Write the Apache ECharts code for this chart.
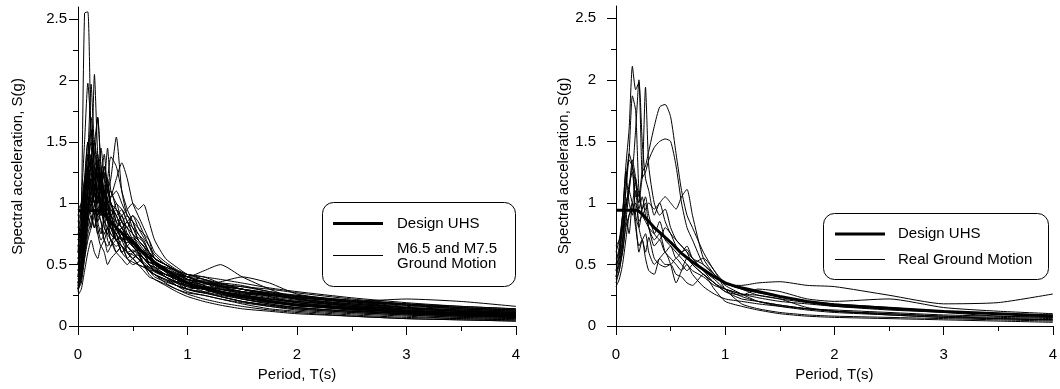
<!DOCTYPE html>
<html>
<head>
<meta charset="utf-8">
<script src="https://cdn.jsdelivr.net/npm/echarts@6/dist/echarts.min.js"></script>
<style>
html,body{margin:0;padding:0;background:#fff;}
#c{width:1060px;height:389px;}
</style>
</head>
<body>
<div id="c"></div>
<script>
// ---------- DATA ----------
const PERIODS = [0, 0.03, 0.06, 0.09, 0.12, 0.15, 0.18, 0.21, 0.24, 0.27, 0.3, 0.35, 0.4, 0.45, 0.5, 0.55, 0.6, 0.65, 0.7, 0.8, 0.9, 1.0, 1.15, 1.3, 1.5, 1.75, 2.0, 2.5, 3.0, 3.5, 4.0];

const UHS_PERIODS = [0, 0.2, 0.25, 0.3, 0.35, 0.4, 0.5, 0.6, 0.7, 0.8, 0.9, 1.0, 1.1, 1.2, 1.35, 1.5, 1.75, 2.0, 2.5, 3.0, 3.5, 4.0];
const UHS_VALUES  = [0.94, 0.94, 0.9, 0.85, 0.8, 0.76, 0.68, 0.59, 0.52, 0.46, 0.40, 0.35, 0.32, 0.30, 0.27, 0.24, 0.2, 0.17, 0.145, 0.117, 0.10, 0.082];

// Left panel: M6.5 and M7.5 ground motions
const L01 = [0.3, 0.9, 2.55, 2.56, 1.5, 1.1, 0.9, 1.0, 0.8, 0.75, 0.7, 0.6, 0.65, 0.6, 0.55, 0.5, 0.48, 0.45, 0.42, 0.38, 0.33, 0.3, 0.27, 0.24, 0.2, 0.17, 0.14, 0.11, 0.09, 0.07, 0.06];
const L02 = [0.5, 0.8, 1.2, 1.5, 1.3, 2.05, 1.4, 1.2, 1.0, 0.9, 0.85, 0.7, 0.75, 0.6, 0.55, 0.58, 0.5, 0.45, 0.45, 0.4, 0.35, 0.3, 0.28, 0.25, 0.22, 0.18, 0.15, 0.12, 0.1, 0.08, 0.07];
const L03 = [0.6, 1.0, 1.5, 1.98, 1.6, 1.3, 1.1, 1.2, 0.95, 0.9, 1.0, 0.85, 0.7, 0.75, 0.65, 0.6, 0.55, 0.5, 0.48, 0.45, 0.4, 0.35, 0.3, 0.28, 0.24, 0.2, 0.17, 0.14, 0.11, 0.09, 0.08];
const L04 = [0.4, 0.7, 1.1, 1.4, 1.97, 1.5, 1.7, 1.3, 1.1, 1.2, 0.9, 0.8, 0.85, 0.7, 0.65, 0.6, 0.62, 0.5, 0.45, 0.42, 0.38, 0.35, 0.32, 0.3, 0.26, 0.22, 0.19, 0.15, 0.12, 0.1, 0.09];
const L05 = [0.8, 0.9, 1.1, 1.2, 1.0, 1.1, 1.3, 1.2, 1.0, 1.1, 1.2, 1.54, 1.1, 0.9, 0.85, 0.7, 0.65, 0.6, 0.55, 0.5, 0.45, 0.4, 0.35, 0.32, 0.28, 0.25, 0.22, 0.18, 0.15, 0.12, 0.1];
const L06 = [0.9, 1.0, 1.2, 1.3, 1.5, 1.4, 1.7, 1.3, 1.2, 1.45, 1.1, 1.0, 0.95, 0.85, 0.8, 0.7, 0.65, 0.55, 0.5, 0.45, 0.42, 0.38, 0.35, 0.3, 0.27, 0.23, 0.2, 0.16, 0.13, 0.11, 0.1];
const L07 = [0.7, 0.8, 1.0, 1.1, 1.2, 1.0, 1.15, 1.25, 1.1, 1.2, 1.38, 1.3, 1.1, 0.95, 0.85, 0.75, 0.7, 0.6, 0.55, 0.5, 0.45, 0.4, 0.35, 0.33, 0.3, 0.26, 0.22, 0.18, 0.14, 0.12, 0.1];
const L08 = [0.5, 0.7, 1.0, 1.2, 1.3, 1.1, 1.0, 1.1, 0.9, 1.0, 1.05, 1.2, 1.33, 1.2, 1.0, 0.9, 0.8, 0.7, 0.55, 0.5, 0.45, 0.42, 0.4, 0.35, 0.3, 0.26, 0.22, 0.17, 0.13, 0.11, 0.09];
const L09 = [0.3, 0.4, 0.6, 0.8, 0.9, 0.8, 0.9, 0.85, 0.7, 0.8, 0.9, 0.85, 0.9, 0.95, 1.0, 0.95, 0.99, 0.85, 0.7, 0.55, 0.48, 0.42, 0.38, 0.35, 0.3, 0.26, 0.23, 0.19, 0.15, 0.12, 0.11];
const L10 = [0.35, 0.45, 0.7, 1.0, 1.2, 1.4, 1.3, 1.1, 1.0, 0.9, 0.8, 0.7, 0.75, 0.65, 0.6, 0.55, 0.5, 0.45, 0.4, 0.36, 0.33, 0.3, 0.27, 0.24, 0.2, 0.16, 0.13, 0.1, 0.08, 0.06, 0.05];
const L11 = [0.25, 0.3, 0.45, 0.6, 0.7, 0.6, 0.55, 0.65, 0.6, 0.5, 0.55, 0.6, 0.65, 0.55, 0.5, 0.52, 0.55, 0.5, 0.45, 0.4, 0.33, 0.28, 0.25, 0.22, 0.18, 0.14, 0.12, 0.09, 0.07, 0.06, 0.05];
const L12 = [0.45, 0.55, 0.8, 1.1, 1.3, 1.2, 1.4, 1.1, 1.25, 1.0, 0.95, 0.9, 0.8, 0.85, 0.75, 0.65, 0.6, 0.55, 0.5, 0.45, 0.38, 0.33, 0.3, 0.28, 0.26, 0.25, 0.23, 0.2, 0.17, 0.15, 0.13];
const L13 = [0.6, 0.7, 0.9, 1.0, 1.1, 1.2, 1.0, 0.9, 0.95, 0.85, 0.8, 0.75, 0.7, 0.72, 0.65, 0.6, 0.55, 0.52, 0.5, 0.45, 0.42, 0.4, 0.45, 0.5, 0.4, 0.3, 0.22, 0.16, 0.12, 0.1, 0.08];
const L14 = [0.55, 0.6, 0.75, 0.9, 1.1, 1.0, 0.9, 1.05, 0.8, 0.75, 0.85, 0.7, 0.65, 0.6, 0.62, 0.58, 0.5, 0.48, 0.45, 0.42, 0.4, 0.36, 0.34, 0.36, 0.4, 0.35, 0.26, 0.2, 0.15, 0.13, 0.11];
const L15 = [0.5, 0.6, 0.8, 0.95, 1.05, 0.9, 1.1, 0.95, 0.85, 0.9, 0.8, 0.7, 0.75, 0.65, 0.6, 0.55, 0.52, 0.48, 0.45, 0.4, 0.36, 0.33, 0.31, 0.3, 0.28, 0.26, 0.25, 0.2, 0.22, 0.2, 0.16];
const L16 = [0.35, 0.5, 0.75, 0.9, 0.8, 1.0, 0.85, 0.75, 0.9, 0.7, 0.65, 0.8, 0.7, 0.6, 0.55, 0.6, 0.5, 0.45, 0.42, 0.35, 0.3, 0.27, 0.25, 0.22, 0.19, 0.16, 0.14, 0.11, 0.09, 0.07, 0.06];
const L17 = [0.65, 0.75, 1.0, 1.25, 1.1, 1.3, 1.2, 1.0, 1.15, 0.95, 0.9, 0.8, 0.85, 0.7, 0.65, 0.6, 0.55, 0.5, 0.48, 0.42, 0.38, 0.35, 0.3, 0.26, 0.23, 0.2, 0.17, 0.13, 0.1, 0.09, 0.07];
const L18 = [0.4, 0.5, 0.65, 0.85, 1.0, 0.9, 0.75, 0.8, 0.7, 0.65, 0.7, 0.6, 0.55, 0.5, 0.55, 0.5, 0.45, 0.4, 0.38, 0.34, 0.3, 0.26, 0.22, 0.19, 0.16, 0.13, 0.11, 0.08, 0.06, 0.05, 0.04];
const L19 = [0.3, 0.45, 0.7, 1.2, 1.6, 1.3, 1.0, 1.2, 1.4, 1.1, 1.0, 0.9, 0.8, 0.75, 0.7, 0.72, 0.68, 0.6, 0.52, 0.47, 0.4, 0.35, 0.3, 0.27, 0.24, 0.2, 0.17, 0.14, 0.11, 0.09, 0.08];
const L20 = [0.75, 0.85, 1.1, 1.3, 1.15, 1.0, 1.1, 0.95, 1.05, 1.2, 1.0, 0.95, 0.9, 0.8, 0.9, 0.85, 0.75, 0.65, 0.55, 0.5, 0.45, 0.38, 0.33, 0.28, 0.25, 0.22, 0.2, 0.16, 0.14, 0.12, 0.1];
const L21 = [0.55, 0.65, 0.85, 1.05, 0.95, 1.15, 1.25, 1.1, 0.9, 1.0, 0.8, 0.75, 0.6, 0.65, 0.7, 0.66, 0.6, 0.55, 0.5, 0.44, 0.36, 0.32, 0.3, 0.35, 0.33, 0.28, 0.24, 0.19, 0.15, 0.13, 0.11];
const L22 = [0.45, 0.6, 0.9, 1.1, 1.25, 1.15, 1.05, 0.95, 1.1, 0.85, 0.75, 0.7, 0.6, 0.55, 0.6, 0.62, 0.58, 0.52, 0.5, 0.46, 0.4, 0.3, 0.27, 0.32, 0.3, 0.24, 0.19, 0.14, 0.11, 0.09, 0.07];
const L23 = [0.95, 1.0, 1.1, 1.25, 1.35, 1.2, 1.1, 1.3, 1.05, 0.95, 0.9, 1.0, 0.85, 0.8, 0.7, 0.65, 0.6, 0.58, 0.5, 0.48, 0.43, 0.38, 0.36, 0.33, 0.3, 0.27, 0.24, 0.2, 0.17, 0.14, 0.12];
const L24 = [0.3, 0.35, 0.55, 0.75, 0.85, 0.95, 0.8, 0.7, 0.75, 0.8, 0.7, 0.65, 0.7, 0.75, 0.68, 0.6, 0.5, 0.42, 0.38, 0.33, 0.28, 0.24, 0.2, 0.17, 0.14, 0.12, 0.1, 0.08, 0.06, 0.05, 0.04];
const L25 = [0.35, 0.5, 0.9, 1.3, 1.1, 1.5, 1.2, 1.0, 0.9, 0.95, 0.85, 0.8, 0.9, 0.75, 0.7, 0.62, 0.55, 0.5, 0.47, 0.4, 0.36, 0.38, 0.33, 0.3, 0.27, 0.25, 0.22, 0.18, 0.15, 0.13, 0.11];
const L26 = [0.28, 0.4, 0.65, 0.95, 1.2, 1.05, 1.3, 1.15, 0.95, 1.05, 1.1, 0.95, 0.85, 0.8, 0.75, 0.7, 0.65, 0.58, 0.52, 0.46, 0.42, 0.37, 0.32, 0.28, 0.25, 0.22, 0.2, 0.17, 0.14, 0.12, 0.1];
const L27 = [0.85, 0.95, 1.15, 1.4, 1.25, 1.1, 1.2, 1.45, 1.2, 1.0, 0.9, 0.95, 0.85, 0.9, 0.8, 0.75, 0.68, 0.6, 0.52, 0.48, 0.45, 0.4, 0.38, 0.34, 0.32, 0.3, 0.27, 0.22, 0.18, 0.15, 0.13];
const L28 = [0.4, 0.55, 0.85, 1.0, 0.9, 0.8, 0.95, 0.85, 0.75, 0.8, 0.7, 0.75, 0.8, 0.85, 0.9, 0.8, 0.72, 0.65, 0.58, 0.5, 0.45, 0.4, 0.36, 0.34, 0.32, 0.28, 0.25, 0.21, 0.17, 0.14, 0.12];
const L29 = [0.5, 0.65, 1.0, 1.3, 1.7, 1.4, 1.2, 1.1, 1.3, 1.15, 1.0, 0.85, 0.8, 0.7, 0.65, 0.6, 0.55, 0.52, 0.5, 0.44, 0.38, 0.35, 0.37, 0.32, 0.28, 0.24, 0.21, 0.17, 0.13, 0.11, 0.09];
const L30 = [0.3, 0.38, 0.55, 0.7, 0.8, 0.9, 0.75, 0.65, 0.7, 0.6, 0.65, 0.7, 0.6, 0.65, 0.6, 0.55, 0.5, 0.46, 0.42, 0.37, 0.33, 0.3, 0.32, 0.28, 0.22, 0.18, 0.15, 0.12, 0.1, 0.08, 0.07];
const L31 = [0.65, 0.8, 1.15, 1.5, 1.3, 1.2, 1.35, 1.2, 1.3, 1.1, 1.05, 1.1, 1.0, 0.9, 0.85, 0.8, 0.75, 0.7, 0.6, 0.52, 0.46, 0.42, 0.4, 0.38, 0.35, 0.31, 0.28, 0.23, 0.19, 0.16, 0.14];
const L32 = [0.45, 0.55, 0.75, 0.95, 1.05, 1.2, 1.1, 0.95, 1.0, 0.9, 0.95, 0.8, 0.7, 0.68, 0.7, 0.65, 0.6, 0.55, 0.5, 0.45, 0.41, 0.35, 0.3, 0.26, 0.24, 0.21, 0.18, 0.14, 0.12, 0.1, 0.08];
const L33 = [0.6, 0.7, 0.85, 1.1, 1.0, 0.9, 1.05, 0.95, 0.85, 0.8, 0.75, 0.7, 0.72, 0.65, 0.6, 0.62, 0.6, 0.55, 0.5, 0.46, 0.43, 0.4, 0.36, 0.31, 0.28, 0.25, 0.23, 0.2, 0.18, 0.16, 0.14];
const L34 = [0.38, 0.5, 0.8, 1.1, 1.35, 1.5, 1.3, 1.0, 0.9, 1.05, 0.85, 0.75, 0.65, 0.6, 0.58, 0.55, 0.5, 0.47, 0.44, 0.4, 0.36, 0.33, 0.28, 0.24, 0.2, 0.17, 0.15, 0.12, 0.1, 0.08, 0.07];
const L35 = [0.7, 0.8, 1.05, 1.2, 1.4, 1.25, 1.1, 1.2, 1.05, 1.15, 1.0, 0.9, 0.95, 0.85, 0.75, 0.7, 0.65, 0.6, 0.55, 0.5, 0.44, 0.38, 0.35, 0.32, 0.3, 0.27, 0.24, 0.2, 0.16, 0.14, 0.12];
const L36 = [0.33, 0.42, 0.6, 0.85, 1.0, 1.1, 0.95, 0.9, 1.0, 0.85, 0.8, 0.75, 0.8, 0.72, 0.68, 0.65, 0.6, 0.5, 0.46, 0.42, 0.38, 0.34, 0.3, 0.27, 0.25, 0.22, 0.19, 0.15, 0.12, 0.1, 0.09];
const L37 = [0.55, 0.65, 0.9, 1.15, 1.3, 1.1, 1.0, 1.15, 0.95, 0.85, 0.9, 0.78, 0.72, 0.7, 0.72, 0.68, 0.62, 0.55, 0.48, 0.42, 0.4, 0.42, 0.38, 0.33, 0.3, 0.26, 0.24, 0.21, 0.18, 0.15, 0.13];
const L38 = [0.42, 0.5, 0.7, 0.9, 1.1, 1.0, 0.85, 0.95, 1.1, 0.9, 0.85, 0.7, 0.65, 0.55, 0.52, 0.5, 0.48, 0.45, 0.42, 0.38, 0.35, 0.32, 0.3, 0.26, 0.22, 0.19, 0.17, 0.13, 0.1, 0.09, 0.08];
const LEFT_MOTIONS = [L01, L02, L03, L04, L05, L06, L07, L08, L09, L10, L11, L12, L13, L14, L15, L16, L17, L18, L19,
  L20, L21, L22, L23, L24, L25, L26, L27, L28, L29, L30, L31, L32, L33, L34, L35, L36, L37, L38];

// Right panel: real ground motions
const R01 = [0.45, 0.6, 0.9, 1.3, 1.6, 2.11, 1.92, 1.98, 1.5, 1.2, 1.1, 0.9, 1.0, 0.85, 0.75, 0.7, 0.65, 0.6, 0.55, 0.45, 0.38, 0.3, 0.24, 0.2, 0.17, 0.14, 0.12, 0.09, 0.07, 0.06, 0.05];
const R02 = [0.5, 0.65, 0.9, 1.2, 1.35, 1.3, 1.6, 2.0, 1.2, 1.94, 1.3, 1.0, 0.9, 0.95, 0.8, 0.7, 0.65, 0.6, 0.5, 0.42, 0.35, 0.28, 0.22, 0.2, 0.17, 0.14, 0.12, 0.1, 0.08, 0.07, 0.06];
const R03 = [0.4, 0.55, 0.8, 1.1, 1.4, 1.87, 1.75, 1.1, 0.95, 1.0, 0.8, 0.7, 0.75, 0.6, 0.55, 0.5, 0.45, 0.5, 0.42, 0.32, 0.26, 0.22, 0.2, 0.18, 0.16, 0.14, 0.13, 0.11, 0.09, 0.08, 0.07];
const R04 = [0.5, 0.55, 0.7, 0.95, 1.1, 1.0, 1.2, 1.05, 1.25, 1.3, 1.42, 1.62, 1.78, 1.8, 1.7, 1.4, 1.1, 0.9, 0.8, 0.6, 0.45, 0.35, 0.3, 0.27, 0.24, 0.2, 0.18, 0.15, 0.12, 0.1, 0.09];
const R05 = [0.55, 0.6, 0.8, 1.0, 1.1, 1.3, 1.15, 1.0, 1.2, 1.25, 1.35, 1.45, 1.5, 1.52, 1.5, 1.3, 1.0, 0.8, 0.7, 0.5, 0.42, 0.35, 0.3, 0.25, 0.22, 0.19, 0.16, 0.13, 0.11, 0.08, 0.07];
const R06 = [0.35, 0.45, 0.6, 0.8, 0.9, 0.95, 1.0, 0.85, 0.9, 0.95, 1.0, 0.95, 1.0, 1.05, 1.0, 0.95, 1.05, 1.11, 0.9, 0.55, 0.42, 0.34, 0.33, 0.35, 0.36, 0.33, 0.32, 0.25, 0.18, 0.19, 0.26];
const R07 = [0.32, 0.38, 0.5, 0.7, 0.9, 1.0, 0.85, 0.6, 0.7, 0.55, 0.45, 0.42, 0.55, 0.5, 0.5, 0.55, 0.5, 0.45, 0.5, 0.55, 0.45, 0.3, 0.18, 0.14, 0.11, 0.09, 0.08, 0.07, 0.06, 0.05, 0.04];
const R08 = [0.6, 0.7, 0.9, 1.25, 1.0, 0.9, 1.1, 0.8, 0.7, 0.75, 0.6, 0.5, 0.55, 0.6, 0.5, 0.35, 0.45, 0.55, 0.5, 0.42, 0.35, 0.28, 0.25, 0.3, 0.28, 0.22, 0.2, 0.22, 0.15, 0.12, 0.1];
const R09 = [0.45, 0.5, 0.6, 0.85, 1.1, 1.35, 1.2, 0.95, 1.05, 0.9, 0.8, 0.65, 0.7, 0.6, 0.65, 0.55, 0.6, 0.62, 0.55, 0.5, 0.42, 0.33, 0.26, 0.2, 0.16, 0.13, 0.11, 0.09, 0.07, 0.06, 0.05];
const R10 = [0.4, 0.5, 0.7, 1.1, 1.4, 1.3, 0.9, 0.8, 0.95, 1.05, 0.9, 0.75, 0.7, 0.8, 0.75, 0.65, 0.6, 0.65, 0.55, 0.45, 0.35, 0.3, 0.26, 0.25, 0.22, 0.15, 0.12, 0.1, 0.08, 0.06, 0.05];
const R11 = [0.65, 0.7, 0.8, 0.95, 1.15, 1.25, 1.05, 1.1, 0.9, 0.85, 0.8, 0.75, 0.85, 0.7, 0.65, 0.6, 0.55, 0.5, 0.45, 0.4, 0.33, 0.3, 0.26, 0.23, 0.2, 0.18, 0.16, 0.14, 0.12, 0.1, 0.08];
const R12 = [0.38, 0.45, 0.65, 0.9, 0.75, 1.0, 0.8, 0.65, 0.7, 0.6, 0.72, 0.55, 0.5, 0.48, 0.5, 0.42, 0.4, 0.35, 0.33, 0.42, 0.3, 0.2, 0.16, 0.13, 0.1, 0.08, 0.07, 0.06, 0.05, 0.04, 0.03];
const RIGHT_MOTIONS = [R01, R02, R03, R04, R05, R06, R07, R08, R09, R10, R11, R12];

const X_MAJOR = [0, 1, 2, 3, 4];
const Y_MAJOR = [0, 0.5, 1, 1.5, 2, 2.5];
const Y_MINOR = [0.25, 0.75, 1.25, 1.75, 2.25];

const NAME_UHS = 'Design UHS';
const NAME_LEFT_1 = 'M6.5 and M7.5';
const NAME_LEFT_2 = 'Ground Motion';
const NAME_RIGHT = 'Real Ground Motion';

// ---------- CHART ----------
const FONT = 'Liberation Sans, Arial, Helvetica, sans-serif';
const chart = echarts.init(document.getElementById('c'), null, {renderer: 'canvas'});

function xAxisFor(g) {
  return {
    gridIndex: g, type: 'value', min: 0, max: 4, interval: 1,
    name: 'Period, T(s)', nameLocation: 'middle', nameGap: 38,
    nameTextStyle: {color: '#000', fontSize: 15, fontFamily: FONT},
    axisLine: {show: true, onZero: false, lineStyle: {color: '#000', width: 1}},
    axisTick: {show: true, length: 9, customValues: X_MAJOR, lineStyle: {color: '#000'}},
    minorTick: {show: true, splitNumber: 2, length: 5, lineStyle: {color: '#000'}},
    axisLabel: {color: '#000', fontSize: 15, fontFamily: FONT, margin: 21, customValues: X_MAJOR},
    splitLine: {show: false}
  };
}
function yMajorFor(g, margin, gap) {
  return {
    gridIndex: g, type: 'value', min: 0, max: 2.6, position: 'left',
    name: 'Spectral acceleration, S(g)', nameLocation: 'middle', nameGap: gap,
    nameTextStyle: {color: '#000', fontSize: 15, fontFamily: FONT},
    axisLine: {show: true, onZero: false, lineStyle: {color: '#000', width: 1}},
    axisTick: {show: true, length: 9, customValues: Y_MAJOR, lineStyle: {color: '#000'}},
    axisLabel: {color: '#000', fontSize: 15, fontFamily: FONT, margin: margin, customValues: Y_MAJOR},
    splitLine: {show: false}
  };
}
function yMinorFor(g) {
  return {
    gridIndex: g, type: 'value', min: 0, max: 2.6, position: 'left', offset: 0,
    axisLine: {show: false},
    axisTick: {show: true, length: 5, customValues: Y_MINOR, lineStyle: {color: '#000'}},
    axisLabel: {show: false},
    splitLine: {show: false}
  };
}

const series = [];
function addMotions(list, name, xi, yi) {
  list.forEach(vals => {
    series.push({
      type: 'line', name: name, xAxisIndex: xi, yAxisIndex: yi,
      data: PERIODS.map((t, i) => [t, vals[i]]),
      symbol: 'none', smooth: 0.2, z: 3,
      lineStyle: {color: '#000', width: 1}, itemStyle: {color: '#000'},
      silent: true
    });
  });
}
function addUHS(xi, yi, z) {
  series.push({
    type: 'line', name: NAME_UHS, xAxisIndex: xi, yAxisIndex: yi,
    data: UHS_PERIODS.map((t, i) => [t, UHS_VALUES[i]]),
    symbol: 'none', smooth: false, z: z,
    lineStyle: {color: '#000', width: 3, join: 'round'}, itemStyle: {color: '#000'},
    silent: true
  });
}
addUHS(0, 0, 2);
addMotions(LEFT_MOTIONS, NAME_LEFT_1 + ' ' + NAME_LEFT_2, 0, 0);
addMotions(RIGHT_MOTIONS, NAME_RIGHT, 1, 2);
addUHS(1, 2, 5);

// ---------- LEGEND BOXES (drawn as graphics) ----------
function txt(x, y, s) {
  return {type: 'text', x: x, y: y, z: 101, silent: true,
    style: {text: s, fill: '#000', font: '15px ' + FONT, textAlign: 'left', textVerticalAlign: 'middle'}};
}
function seg(x1, x2, y, w) {
  return {type: 'line', z: 101, silent: true, shape: {x1: x1, y1: y, x2: x2, y2: y},
    style: {stroke: '#000', lineWidth: w}};
}
function box(x, y, w, h) {
  return {type: 'rect', z: 100, silent: true, shape: {x: x, y: y, width: w, height: h, r: 11},
    style: {fill: '#fff', stroke: '#000', lineWidth: 1}};
}
const graphics = [
  box(322.5, 202.5, 193, 84),
  seg(333, 383, 223.5, 3), txt(397, 223.5, NAME_UHS),
  seg(333, 383, 255.5, 1), txt(397, 249, NAME_LEFT_1), txt(397, 263.5, NAME_LEFT_2),
  box(823.5, 213.5, 225, 66),
  seg(835, 885, 234, 3), txt(898, 234, NAME_UHS),
  seg(835, 885, 259.5, 1), txt(898, 259.5, NAME_RIGHT)
];

chart.setOption({
  animation: false,
  backgroundColor: '#fff',
  grid: [
    {left: 78, right: 544, top: 7, bottom: 63},
    {left: 616, right: 5, top: 6, bottom: 63}
  ],
  xAxis: [xAxisFor(0), xAxisFor(1)],
  yAxis: [yMajorFor(0, 11, 53), yMinorFor(0), yMajorFor(1, 20, 31), yMinorFor(1)],
  graphic: graphics,
  series: series
});
</script>
</body>
</html>
